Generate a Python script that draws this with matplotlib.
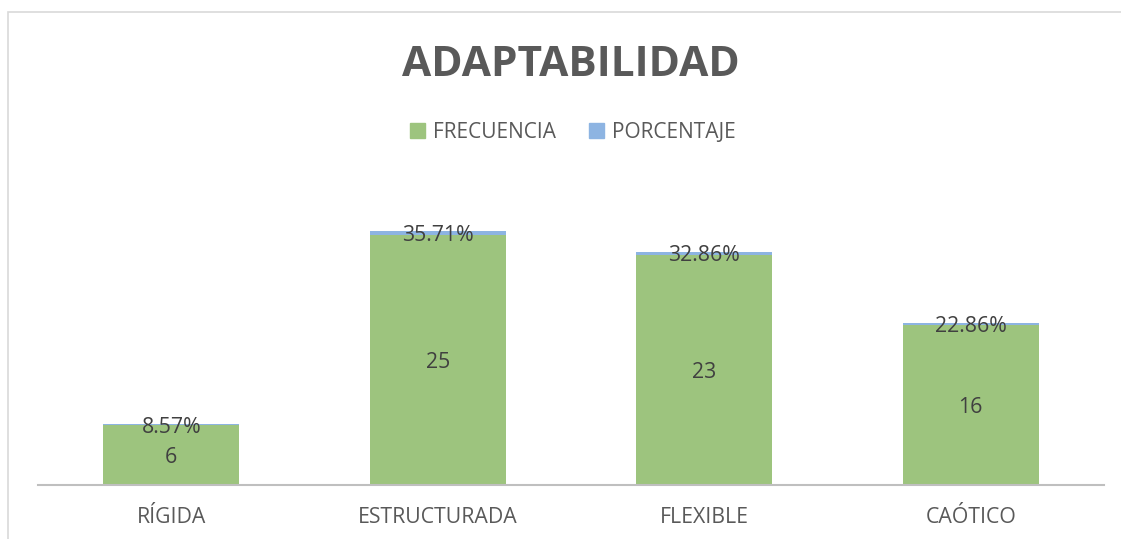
import matplotlib.pyplot as plt
import numpy as np
from matplotlib.patches import Patch, Rectangle

plt.rcParams['font.family'] = ['Open Sans', 'DejaVu Sans']

# datos
categorias = ['RÍGIDA', 'ESTRUCTURADA', 'FLEXIBLE', 'CAÓTICO']
frecuencia = [6, 25, 23, 16]
porcentaje = [0.0857, 0.3571, 0.3286, 0.2286]
etiquetas_pct = ['8.57%', '35.71%', '32.86%', '22.86%']

verde = '#9DC47E'
azul = '#8DB4E2'
gris_txt = '#595959'

W, H = 1121, 539
fig = plt.figure(figsize=(W / 100, H / 100), dpi=100)
ax = fig.add_axes([38 / W, (H - 485) / H, (1104 - 38) / W, 300 / H])

x = np.arange(len(categorias))
ancho = 0.51
ax.bar(x, frecuencia, ancho, color=verde, label='FRECUENCIA')
ax.bar(x, porcentaje, ancho, bottom=frecuencia, color=azul, label='PORCENTAJE')

for i in range(len(categorias)):
    ax.text(x[i], frecuencia[i] / 2, str(frecuencia[i]), ha='center', va='center_baseline',
            fontsize=15.3, color='#404040')
    ax.text(x[i], frecuencia[i] + porcentaje[i] / 2, etiquetas_pct[i], ha='center',
            va='center_baseline', fontsize=15.3, color='#404040')

ax.set_xlim(-0.5, 3.5)
ax.set_ylim(0, 30)
ax.set_yticks([])
ax.set_xticks(x)
ax.set_xticklabels(categorias, fontsize=15.3, color=gris_txt)
ax.tick_params(axis='x', length=0, pad=16)
for s in ['top', 'right', 'left']:
    ax.spines[s].set_visible(False)
ax.spines['bottom'].set_color('#BFBFBF')
ax.spines['bottom'].set_linewidth(1.5)

# marco del grafico
fig.patches.append(Rectangle((8 / W, -0.1), 1.2, 1 - 12 / H + 0.1, transform=fig.transFigure,
                             fill=False, edgecolor='#D9D9D9', linewidth=1.2))

fig.text(571 / W, 1 - 65 / H, 'ADAPTABILIDAD', ha='center', va='center',
         fontsize=30.5, fontweight='bold', color=gris_txt)

handles = [Patch(color=verde, label='FRECUENCIA'), Patch(color=azul, label='PORCENTAJE')]
fig.legend(handles=handles, loc='center', bbox_to_anchor=(573 / W, 1 - 132 / H), ncol=2,
           frameon=False, fontsize=15, labelcolor=gris_txt, handlelength=0.7,
           handleheight=0.7, handletextpad=0.4, columnspacing=1.6)

fig.savefig('out.png', dpi=100)
